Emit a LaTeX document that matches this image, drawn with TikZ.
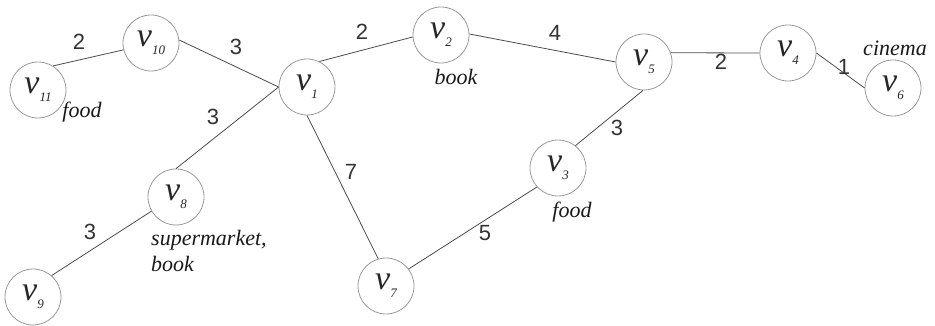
\documentclass[tikz,border=0pt]{standalone}
\usepackage{fontspec}
\setmainfont{Liberation Serif}
\newfontfamily\numfont{Liberation Sans}
\newcommand\vn[1]{{\fontsize{34}{34}\selectfont\itshape v}\raisebox{-8pt}{\fontsize{13}{13}\selectfont\itshape #1}}
\begin{document}
\begin{tikzpicture}[x=1pt,y=-1pt,
  vert/.style={circle,draw=black!40,line width=0.8pt,minimum size=56pt,inner sep=0pt,text=black!85},
  edge/.style={draw=black!70,line width=0.8pt},
  wlab/.style={font=\numfont\fontsize{22}{22}\selectfont,text=black!80,inner sep=0pt},
  ann/.style={font=\itshape\fontsize{22}{26}\selectfont,text=black!90,inner sep=0pt}]
\useasboundingbox (0,0) rectangle (935,326);
\node[vert] (v11) at (38,90)   {\vn{11}};
\node[vert] (v10) at (151,43)  {\vn{10}};
\node[vert] (v1)  at (307,87)  {\vn{1}};
\node[vert] (v2)  at (441,35)  {\vn{2}};
\node[vert] (v5)  at (644,62)  {\vn{5}};
\node[vert] (v4)  at (788,53)  {\vn{4}};
\node[vert] (v6)  at (893,88)  {\vn{6}};
\node[vert] (v8)  at (176,197) {\vn{8}};
\node[vert] (v9)  at (33,297)  {\vn{9}};
\node[vert] (v7)  at (386,286) {\vn{7}};
\node[vert] (v3)  at (558,168) {\vn{3}};

\draw[edge] (v11.58) -- (v10.194);
\draw[edge] (v10.6) -- (v1.180);
\draw[edge] (v8.90) -- (v1.180);
\draw[edge] (v1.64) -- (v2.184);
\draw[edge] (v2.2) -- (v5.180);
\draw[edge] (v5.268) -- (v3.52);
\draw[edge] (v5.19) -- (v4.180);
\draw[edge] (v4.0) -- (v6.180);
\draw[edge] (v9.49) -- (v8.210);
\draw[edge] (v1.270) -- (v7.106);
\draw[edge] (v7.37) -- (v3.222);

\node[wlab] (w1) at (79,42) {2};
\node[wlab] (w2) at (236,47) {3};
\node[wlab] (w3) at (213,117) {3};
\node[wlab] (w4) at (362,32) {2};
\node[wlab] (w5) at (555,33) {4};
\node[wlab] (w6) at (617,128) {3};
\node[wlab] (w7) at (721,62) {2};
\node[wlab] (w8) at (844,67) {1};
\node[wlab] (w9) at (90,232) {3};
\node[wlab] (w10) at (351,172) {7};
\node[wlab] (w11) at (485,233) {5};

\node[ann] (a11) at (82,112) {food};
\node[ann] (a2) at (456,77) {book};
\node[ann] (a6) at (895,48) {cinema};
\node[ann] (a3) at (572,212) {food};
\node[ann,anchor=base west] (a8) at (151,245) {\begin{tabular}[t]{@{}l@{}}supermarket,\\book\end{tabular}};
\end{tikzpicture}
\end{document}
